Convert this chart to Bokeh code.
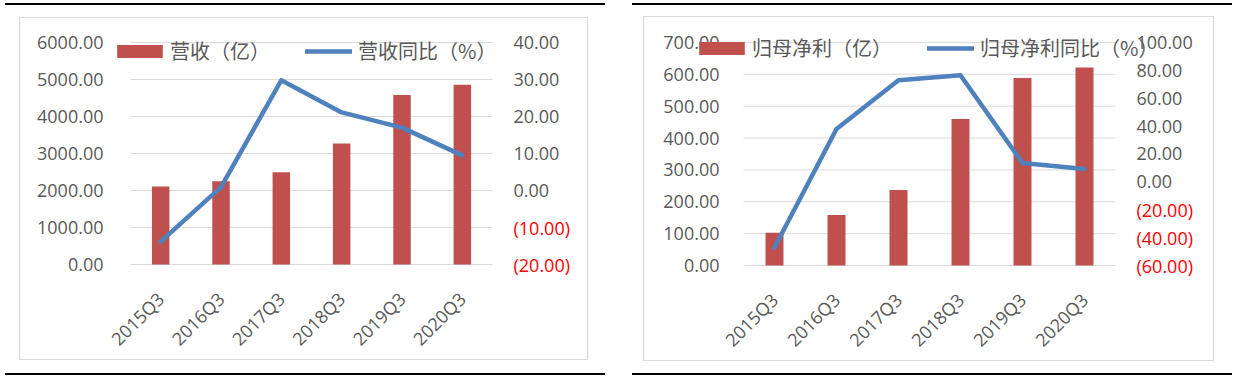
import math
from bokeh.plotting import figure
from bokeh.models import (ColumnDataSource, Range1d, LinearAxis, FixedTicker, LabelSet,
                          Legend, LegendItem, Div, NumeralTickFormatter,
                          CustomJSTickFormatter)
from bokeh.layouts import row, column
from bokeh.embed import file_html
from bokeh.resources import INLINE
from bokeh.core.properties import value

# ---------------- data ----------------
periods = ["2015Q3", "2016Q3", "2017Q3", "2018Q3", "2019Q3", "2020Q3"]

revenue = [2110, 2250, 2490, 3270, 4580, 4860]           # 营收（亿）
revenue_yoy = [-13.8, 0.9, 29.8, 21.1, 17.0, 9.5]          # 营收同比（%）

net_profit = [103, 159, 237, 460, 588, 621]                # 归母净利（亿）
net_profit_yoy = [-47.0, 37.9, 72.9, 76.4, 13.6, 9.3]      # 归母净利同比（%）

rev_ticks = [0, 1000, 2000, 3000, 4000, 5000, 6000]
rev_yoy_ticks = [-20, -10, 0, 10, 20, 30, 40]
np_ticks = [0, 100, 200, 300, 400, 500, 600, 700]
np_yoy_ticks = [-60, -40, -20, 0, 20, 40, 60, 80, 100]

BAR = "#C0504D"
LINE = "#4F81BD"
TXT = "#595959"
GRID = "#D9D9D9"
NUM_FONT = "Open Sans"
CJK_FONT = "Noto Sans CJK SC"

N = len(periods)
centers = [i + 0.5 for i in range(N)]   # category slots on the x scale


def px_range(v0, v1, p0, p1, q0, q1):
    """Range whose ends sit at pixels q0/q1 when v0/v1 sit at pixels p0/p1."""
    k = (v1 - v0) / (p1 - p0)
    return Range1d(v0 + (q0 - p0) * k, v0 + (q1 - p0) * k)


def style_axis(ax):
    ax.axis_line_color = None
    ax.major_tick_line_color = None
    ax.minor_tick_line_color = None
    ax.major_tick_out = 0
    ax.major_tick_in = 0
    ax.minor_tick_out = 0
    ax.minor_tick_in = 0
    ax.major_label_text_font = NUM_FONT
    ax.major_label_text_font_size = "18px"
    ax.major_label_text_color = TXT


def make_panel(vals, yoy, ticks, yoy_ticks, bar_label, line_label, g):
    cx, cy, w, h = g["canvas"]
    ax0, ax1, ay0, ay1 = g["area"]        # data area (categories / tick span)
    fx0, fx1, fy0, fy1 = g["frame"]       # drawing frame (wider, so nothing clips)

    p = figure(x_range=px_range(0, N, ax0, ax1, fx0, fx1),
               y_range=px_range(ticks[0], ticks[-1], ay1, ay0, fy1, fy0),
               width=w, height=h,
               output_backend="svg", toolbar_location=None,
               x_axis_location=None,
               min_border_left=fx0 - cx, min_border_right=cx + w - fx1,
               min_border_top=fy0 - cy, min_border_bottom=cy + h - fy1,
               outline_line_color=None, background_fill_color="white",
               border_fill_color="white")
    p.styles = {"border": "1px solid #D9D9D9"}
    p.margin = g["margin"]
    p.xgrid.visible = False
    p.ygrid.visible = False

    # horizontal gridlines over the category span only
    gsrc = ColumnDataSource(dict(y=ticks))
    p.segment(x0=0, x1=N, y0="y", y1="y", source=gsrc,
              line_color=GRID, line_width=1)

    # left axis
    ya = p.yaxis[0]
    ya.ticker = FixedTicker(ticks=ticks)
    ya.formatter = NumeralTickFormatter(format="0.00")
    style_axis(ya)
    ya.major_label_standoff = fx0 - g["lab_l"]

    # right axis (non-negative ticks; negatives drawn in red below)
    p.extra_y_ranges = {"yoy": px_range(yoy_ticks[0], yoy_ticks[-1], ay1, ay0, fy1, fy0)}
    ra = LinearAxis(y_range_name="yoy",
                    ticker=FixedTicker(ticks=[t for t in yoy_ticks if t >= 0]),
                    formatter=NumeralTickFormatter(format="0.00"))
    style_axis(ra)
    ra.major_label_standoff = g["lab_r"] - fx1
    p.add_layout(ra, "right")

    neg = [t for t in yoy_ticks if t < 0]
    neg_src = ColumnDataSource(dict(
        x=[N] * len(neg), y=neg,
        text=["(%.2f)" % abs(t) for t in neg]))
    p.add_layout(LabelSet(x="x", y="y", text="text", source=neg_src,
                          y_range_name="yoy", x_offset=g["lab_r"] - ax1,
                          text_align="left", text_baseline="middle",
                          text_color="#FF0000", text_font=value(NUM_FONT),
                          text_font_size="18px"))

    # category labels axis
    xa = LinearAxis(ticker=FixedTicker(ticks=centers),
                    formatter=CustomJSTickFormatter(args=dict(labels=periods),
                                                    code="return labels[Math.floor(tick)]"),
                    major_label_orientation=math.pi / 4)
    style_axis(xa)
    xa.major_label_standoff = g["xs"] - (fy1 - ay1)
    p.add_layout(xa, "below")

    src = ColumnDataSource(dict(x=centers, v=vals, y=yoy, name=periods))
    bars = p.vbar(x="x", top="v", width=0.29, source=src,
                  fill_color=BAR, line_color=None)
    line = p.line(x="x", y="y", source=src, y_range_name="yoy",
                  line_color=LINE, line_width=4.5, line_join="round",
                  line_cap="round")

    common = dict(orientation="horizontal", padding=0, margin=0,
                  border_line_color=None, background_fill_alpha=0,
                  label_text_font=CJK_FONT, label_text_font_size="20px",
                  label_text_color=TXT, glyph_height=16)
    lg1 = Legend(items=[LegendItem(label=bar_label, renderers=[bars])],
                 location=(g["lg1"][0] - fx0, fy1 - g["lg1"][1]),
                 glyph_width=57, label_standoff=2, **common)
    lg2 = Legend(items=[LegendItem(label=line_label, renderers=[line])],
                 location=(g["lg2"][0] - fx0, fy1 - g["lg2"][1]),
                 glyph_width=47, label_standoff=6, **common)
    p.add_layout(lg1, "center")
    p.add_layout(lg2, "center")

    top = Div(text="", width=600, height=2, margin=0,
              styles={"background-color": "black"})
    bot = Div(text="", width=600, height=2, margin=0,
              styles={"background-color": "black"})
    return column(top, p, bot, spacing=0)


# layout geometry in page pixels
left_geo = dict(canvas=(20, 18, 569, 343), area=(130, 492, 42, 264),
                frame=(110, 584, 18, 282), margin=(12, 0, 13, 14),
                lab_l=103, lab_r=513, xs=31,
                lg1=(111, 65), lg2=(305, 65))
right_geo = dict(canvas=(644, 17, 571, 345), area=(743, 1115, 42, 266),
                 frame=(690, 1208, 17, 284), margin=(11, 0, 12, 11),
                 lab_l=719, lab_r=1136, xs=31,
                 lg1=(693, 63), lg2=(927, 63))

left = make_panel(revenue, revenue_yoy, rev_ticks, rev_yoy_ticks,
                  "营收（亿）", "营收同比（%）", left_geo)
right = make_panel(net_profit, net_profit_yoy, np_ticks, np_yoy_ticks,
                   "归母净利（亿）", "归母净利同比（%）", right_geo)
right.margin = (0, 0, 0, 27)

root = row(left, right, spacing=0, margin=(3, 0, 0, 5))

open("out.html", "w").write(file_html(root, INLINE))
